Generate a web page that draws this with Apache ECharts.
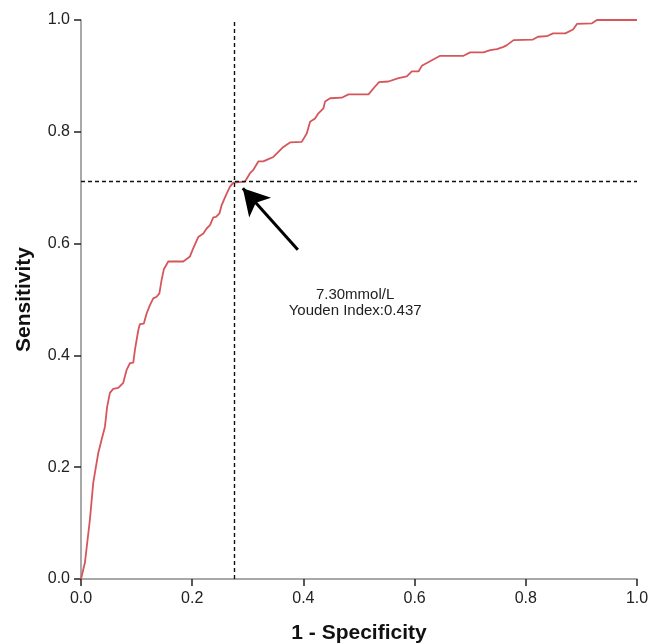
<!DOCTYPE html>
<html>
<head>
<meta charset="utf-8">
<script src="https://cdn.jsdelivr.net/npm/echarts@6/dist/echarts.min.js"></script>
<style>html,body{margin:0;padding:0;background:#fff}#c{width:650px;height:644px}</style>
</head>
<body>
<div id="c"></div>
<script>
// ROC curve points (1 - specificity, sensitivity)
var fpr = [0,0.007,0.016,0.022,0.025,0.028,0.031,0.037,0.043,0.047,0.052,0.058,0.067,0.076,0.082,0.088,0.094,0.097,0.103,0.106,0.113,0.118,0.124,0.130,0.136,0.141,0.145,0.149,0.157,0.184,0.196,0.202,0.211,0.220,0.226,0.232,0.238,0.243,0.249,0.253,0.261,0.268,0.274,0.295,0.304,0.310,0.319,0.328,0.337,0.346,0.355,0.364,0.376,0.397,0.406,0.412,0.421,0.427,0.436,0.439,0.448,0.469,0.481,0.517,0.529,0.536,0.553,0.571,0.586,0.595,0.607,0.613,0.622,0.631,0.634,0.646,0.688,0.700,0.724,0.736,0.748,0.760,0.766,0.778,0.813,0.822,0.838,0.849,0.871,0.885,0.892,0.919,0.928,1.0];
var tpr = [0,0.029,0.106,0.172,0.190,0.192,0.225,0.249,0.272,0.308,0.333,0.340,0.342,0.351,0.374,0.386,0.387,0.410,0.445,0.456,0.457,0.475,0.490,0.502,0.505,0.511,0.535,0.554,0.568,0.568,0.577,0.592,0.612,0.618,0.627,0.633,0.647,0.648,0.654,0.669,0.687,0.702,0.709,0.711,0.726,0.732,0.747,0.747,0.751,0.755,0.764,0.773,0.781,0.782,0.797,0.818,0.824,0.833,0.842,0.854,0.860,0.861,0.867,0.867,0.881,0.889,0.890,0.896,0.899,0.908,0.908,0.918,0.923,0.928,0.931,0.936,0.936,0.942,0.942,0.946,0.948,0.952,0.955,0.964,0.965,0.970,0.971,0.976,0.976,0.983,0.993,0.994,1.0,1.0];
// Optimal cut-off (Youden)
var cutX = [0.276];
var cutY = [0.711];
var arrowFrom = [0.390, 0.589];
var arrowTo = [0.291, 0.699];
var annotPos = [0.493, 0.494];
var annotText = ['7.30mmol/L', 'Youden Index:0.437'];
var tickLabels = ['0.0','0.2','0.4','0.6','0.8','1.0'];

var FONT = '"Liberation Sans", Arial, sans-serif';
var rocData = fpr.map(function (x, i) { return [x, tpr[i]]; });

function axis(name, isY) {
  return {
    type: 'value', min: 0, max: 1, interval: 0.2,
    name: name, nameLocation: 'middle', nameGap: isY ? 46 : 44,
    nameTextStyle: { fontFamily: FONT, fontSize: 21, fontWeight: 'bold', color: '#111' },
    axisLine: { show: true, lineStyle: { color: '#8c8c8c', width: 1.5 } },
    axisTick: { show: true, inside: false, length: 7, lineStyle: { color: '#222', width: 1.5 } },
    axisLabel: {
      fontFamily: FONT, fontSize: 16, color: '#222', margin: isY ? 11 : 12,
      formatter: function (v) { return tickLabels[Math.round(v / 0.2)]; }
    },
    splitLine: { show: false }
  };
}

var chart = echarts.init(document.getElementById('c'));
chart.setOption({
  backgroundColor: '#fff',
  animation: false,
  grid: { left: 81, right: 13, top: 20, bottom: 65, containLabel: false, outerBoundsMode: 'none' },
  xAxis: axis('1 - Specificity', false),
  yAxis: axis('Sensitivity', true),
  series: [
    {
      type: 'line', data: rocData, showSymbol: false, symbol: 'none',
      lineStyle: { color: '#d6565b', width: 1.8 },
      z: 3,
      markLine: {
        silent: true, symbol: ['none', 'none'], animation: false,
        label: { show: false },
        lineStyle: { color: '#111', type: [4, 3], width: 1.4 },
        data: [
          [{ coord: [cutX[0], 0] }, { coord: [cutX[0], 1] }],
          [{ coord: [0, cutY[0]] }, { coord: [1, cutY[0]] }]
        ]
      }
    },
    {
      type: 'line', data: [], z: 5,
      markLine: {
        silent: true, animation: false,
        symbol: ['none', 'arrow'], symbolSize: [22, 26],
        label: { show: false },
        lineStyle: { color: '#000', type: 'solid', width: 3 },
        data: [[{ coord: arrowFrom }, { coord: arrowTo }]]
      },
      markPoint: {
        silent: true, animation: false,
        symbol: 'circle', symbolSize: 0,
        label: {
          show: true, position: 'inside', fontFamily: FONT, fontSize: 15, color: '#222',
          lineHeight: 16, align: 'center', verticalAlign: 'middle',
          formatter: annotText.join('\n')
        },
        data: [{ coord: annotPos }]
      }
    }
  ]
});
</script>
</body>
</html>
